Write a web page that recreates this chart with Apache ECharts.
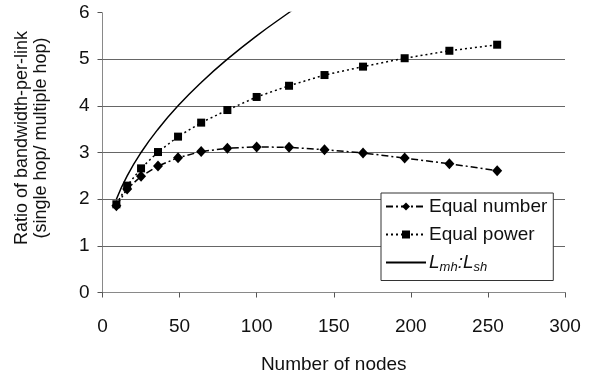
<!DOCTYPE html>
<html>
<head>
<meta charset="utf-8">
<script src="https://cdn.jsdelivr.net/npm/echarts@6/dist/echarts.min.js"></script>
<style>
    html, body {margin: 0; padding: 0; background: #fff;}
    #chart {width: 594px; height: 376px;}
</style>
</head>
<body>
<div id="chart"></div>
<script>
'use strict';

// 节点数 (横轴)
var nodes = [9, 16, 25, 36, 49, 64, 81, 100, 121, 144, 169, 196, 225, 256];
var equalNumber = [1.86, 2.22, 2.49, 2.71, 2.89, 3.02, 3.09, 3.12, 3.11, 3.06, 2.99, 2.88, 2.76, 2.61];
var equalPower = [1.89, 2.29, 2.66, 3.01, 3.34, 3.64, 3.91, 4.19, 4.43, 4.66, 4.84, 5.02, 5.18, 5.31];

// Lmh:Lsh 曲线
var ratioNodes = [9, 16, 25, 36, 49, 64, 81, 100, 121, 124];
var ratioValues = [2.0, 2.5, 3.0, 3.5, 4.0, 4.5, 5.0, 5.5, 6.0, 6.07];

var seriesNames = ['Equal number', 'Equal power', 'Lmh:Lsh'];
var xTicks = [0, 300, 50];
var yTicks = [0, 6, 1];

var font = 'Liberation Sans, Arial, sans-serif';

function pairs(xs, ys) {
    return xs.map(function (x, i) {
        return [x, ys[i]];
    });
}

var chart = echarts.init(document.getElementById('chart'));

chart.setOption({
    animation: false,
    backgroundColor: '#fff',
    textStyle: {fontFamily: font, color: '#111'},
    grid: {left: 102.5, right: 29, top: 12.5, bottom: 83.5, outerBoundsMode: 'none', containLabel: false},
    // 纵轴标题 (两行)
    graphic: [{
        type: 'text',
        x: 32,
        y: 138,
        rotation: Math.PI / 2,
        style: {
            text: 'Ratio of bandwidth-per-link\n(single hop/ multiple hop)',
            font: '18px ' + font,
            lineHeight: 19,
            fill: '#111',
            align: 'center',
            verticalAlign: 'middle'
        }
    }],
    legend: {
        orient: 'vertical',
        left: 381,
        top: 193,
        data: [
            seriesNames[0],
            seriesNames[1],
            {name: seriesNames[2], itemStyle: {opacity: 0}}
        ],
        backgroundColor: '#fff',
        borderColor: '#333',
        borderWidth: 1,
        borderRadius: 0,
        padding: [4, 6, 7, 4],
        itemWidth: 40,
        itemHeight: 10,
        itemGap: 9,
        textStyle: {
            fontFamily: font,
            fontSize: 19,
            color: '#111',
            padding: [0, 0, 0, -2],
            rich: {
                i: {fontFamily: font, fontSize: 19, fontStyle: 'italic', color: '#111'},
                s: {fontFamily: font, fontSize: 13, fontStyle: 'italic', color: '#111', padding: [9, 0, 0, 0]}
            }
        },
        formatter: function (name) {
            if (name === 'Lmh:Lsh') {
                return '{i|L}{s|mh}{i|:L}{s|sh}';
            }
            return name;
        }
    },
    xAxis: [{
        type: 'value',
        min: xTicks[0],
        max: xTicks[1],
        interval: xTicks[2],
        name: 'Number of nodes',
        nameLocation: 'middle',
        nameGap: 63,
        nameTextStyle: {fontFamily: font, fontSize: 19, color: '#111'},
        axisLine: {show: true, lineStyle: {color: '#888', type: [1, 1], width: 1}},
        axisTick: {show: true, length: 5, lineStyle: {color: '#555'}},
        axisLabel: {margin: 25, fontFamily: font, fontSize: 19, color: '#111'},
        splitLine: {show: false}
    }, {
        type: 'value',
        position: 'top',
        min: xTicks[0],
        max: xTicks[1],
        axisLine: {show: true, lineStyle: {color: '#888', type: [1, 1], width: 1}},
        axisTick: {show: false},
        axisLabel: {show: false},
        splitLine: {show: false}
    }],
    yAxis: [{
        type: 'value',
        min: yTicks[0],
        max: yTicks[1],
        interval: yTicks[2],
        axisLine: {show: true, lineStyle: {color: '#888', type: [1, 1], width: 1}},
        axisTick: {show: true, length: 5, lineStyle: {color: '#555'}},
        axisLabel: {margin: 13, fontFamily: font, fontSize: 19, color: '#111'},
        splitLine: {
            show: true,
            lineStyle: {
                color: ['transparent', '#666', '#666', '#666', '#666', '#666', 'transparent'],
                width: 1
            }
        }
    }, {
        type: 'value',
        position: 'right',
        min: yTicks[0],
        max: yTicks[1],
        axisLine: {show: true, lineStyle: {color: '#888', type: [1, 1], width: 1}},
        axisTick: {show: false},
        axisLabel: {show: false},
        splitLine: {show: false}
    }],
    series: [{
        name: seriesNames[0],
        type: 'line',
        data: pairs(nodes, equalNumber),
        symbol: 'diamond',
        symbolSize: [10, 11],
        itemStyle: {color: '#000'},
        lineStyle: {color: '#000', width: 1.5, type: [7, 3, 2, 3]},
        z: 3
    }, {
        name: seriesNames[1],
        type: 'line',
        data: pairs(nodes, equalPower),
        symbol: 'rect',
        symbolSize: 8,
        itemStyle: {color: '#000'},
        lineStyle: {color: '#000', width: 1.5, type: [2, 3]},
        z: 3
    }, {
        name: seriesNames[2],
        type: 'line',
        data: pairs(ratioNodes, ratioValues),
        symbol: 'none',
        smooth: 0.5,
        clip: true,
        itemStyle: {color: '#000'},
        lineStyle: {color: '#000', width: 1.5, type: 'solid'},
        z: 2
    }]
});
</script>
</body>
</html>
